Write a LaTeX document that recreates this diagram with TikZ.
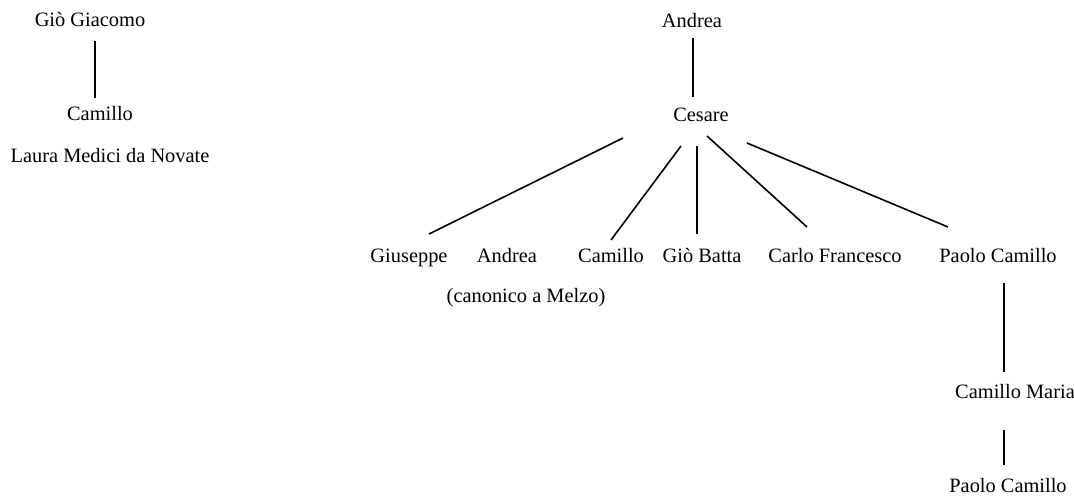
\documentclass[tikz,border=0pt]{standalone}
\usepackage{fontspec}
\setmainfont{Liberation Serif}
\usepackage{tikz}

\begin{document}
\begin{tikzpicture}[
    x=0.5pt, y=-0.5pt,
    person/.style={inner sep=0pt, text height=1.6ex, text depth=0.3ex, font=\fontsize{10.2}{12}\selectfont},
    link/.style={line width=0.8pt}
]
\useasboundingbox (0,0) rectangle (1074,503);

% Left branch
\node[person] (gioGiacomo) at (90,21) {Giò Giacomo};
\node[person] (camilloA) at (100,115) {Camillo};
\node[person] (laura) at (110,157) {Laura Medici da Novate};
\draw[link] ([shift={(5,20)}]gioGiacomo.center) -- ([shift={(-5,-17)}]camilloA.center);

% Right branch: Andrea and Cesare
\node[person] (andreaA) at (692,22) {Andrea};
\node[person] (cesare) at (701,116) {Cesare};
\draw[link] ([shift={(1,16)}]andreaA.center) -- ([shift={(-8,-19)}]cesare.center);

% Children of Cesare
\node[person] (giuseppe) at (409,257) {Giuseppe};
\node[person] (andreaB) at (507,257) {Andrea};
\node[person] (canonico) at (526,297) {(canonico a Melzo)};
\node[person] (camilloB) at (611,257) {Camillo};
\node[person] (gioBatta) at (702,257) {Giò Batta};
\node[person] (carlo) at (835,257) {Carlo Francesco};
\node[person] (paoloA) at (998,257) {Paolo Camillo};

\draw[link] ([shift={(-78,22)}]cesare.center) -- ([shift={(20,-23)}]giuseppe.center);
\draw[link] ([shift={(-20,30)}]cesare.center) -- ([shift={(0,-17)}]camilloB.center);
\draw[link] ([shift={(-4,30)}]cesare.center) -- ([shift={(-5,-23)}]gioBatta.center);
\draw[link] ([shift={(6,20)}]cesare.center) -- ([shift={(-28,-30)}]carlo.center);
\draw[link] ([shift={(46,27)}]cesare.center) -- ([shift={(-50,-30)}]paoloA.center);

% Descendants of Paolo Camillo
\node[person] (camilloMaria) at (1015,393) {Camillo Maria};
\node[person] (paoloB) at (1008,487) {Paolo Camillo};
\draw[link] ([shift={(6,26)}]paoloA.center) -- ([shift={(-11,-21)}]camilloMaria.center);
\draw[link] ([shift={(-11,37)}]camilloMaria.center) -- ([shift={(-4,-22)}]paoloB.center);

\end{tikzpicture}
\end{document}
